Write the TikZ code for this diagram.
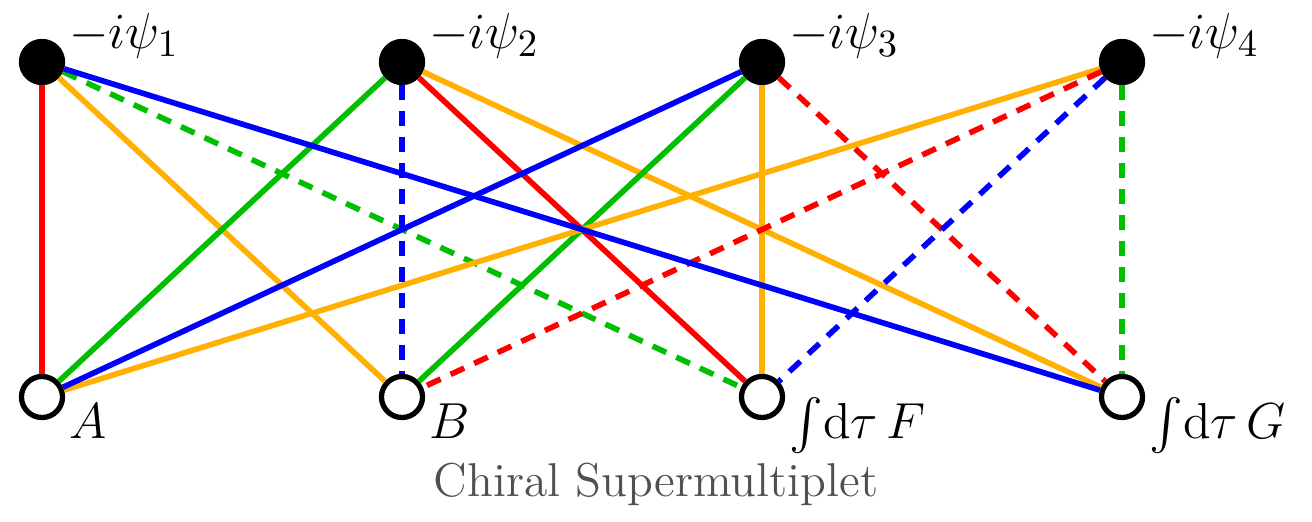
\documentclass[tikz,border=0pt]{standalone}
\usepackage{amsmath}
\usetikzlibrary{positioning,calc}
\definecolor{adkred}{RGB}{255,0,0}
\definecolor{adkorange}{RGB}{255,176,0}
\definecolor{adkgreen}{RGB}{0,190,0}
\definecolor{adkblue}{RGB}{0,0,255}
\definecolor{capgray}{RGB}{80,80,80}

\begin{document}
\begin{tikzpicture}[x=0.01cm, y=-0.01cm,
  fermion/.style={circle, draw=black, fill=black, line width=1.5pt,
    minimum size=0.41cm, inner sep=0pt},
  boson/.style={circle, draw=black, fill=white, line width=1.5pt,
    minimum size=0.41cm, inner sep=0pt},
  link/.style={line width=1.6pt},
  flip/.style={dash pattern=on 0.15cm off 0.11cm},
  fieldlabel/.style={font=\fontsize{15}{18}\selectfont, inner sep=1pt, anchor=base west},
  caption/.style={font=\fontsize{13.5}{16}\selectfont, text=capgray, anchor=base}
]
\useasboundingbox (0,0) rectangle (1312,521);

% fermions on top
\node[fermion] (psi1) at (42,62) {};
\node[fermion] (psi2) at (402,62) {};
\node[fermion] (psi3) at (762,62) {};
\node[fermion] (psi4) at (1122,62) {};

% bosons below
\node[boson] (A) at (42,397) {};
\node[boson] (B) at (402,397) {};
\node[boson] (F) at (762,397) {};
\node[boson] (G) at (1122,397) {};

% edges
\draw[link,adkred] (psi1) -- (A);
\draw[link,adkorange] (psi1) -- (B);
\draw[link,adkgreen,flip] (psi1) -- (F);
\draw[link,adkgreen] (psi2) -- (A);
\draw[link,adkblue,flip] (psi2) -- (B);
\draw[link,adkred] (psi2) -- (F);
\draw[link,adkorange] (psi2) -- (G);
\draw[link,adkorange] (psi3) -- (F);
\draw[link,adkred,flip] (psi3) -- (G);
\draw[link,adkgreen] (psi3) -- (B);
\draw[link,adkorange] (psi4) -- (A);
\draw[link,adkred,flip] (psi4) -- (B);
\draw[link,adkblue,flip] (psi4) -- (F);
\draw[link,adkgreen,flip] (psi4) -- (G);
\draw[link,adkblue] (psi3) -- (A);
\draw[link,adkblue] (psi1) -- (G);

% labels
\node[fieldlabel] at ([yshift=0.13cm]psi1.east) {$-i\psi_1$};
\node[fieldlabel] at ([yshift=0.13cm]psi2.east) {$-i\psi_2$};
\node[fieldlabel] at ([yshift=0.13cm]psi3.east) {$-i\psi_3$};
\node[fieldlabel] at ([yshift=0.13cm]psi4.east) {$-i\psi_4$};
\node[fieldlabel] at ([yshift=-0.41cm]A.east) {$A$};
\node[fieldlabel] at ([yshift=-0.41cm]B.east) {$B$};
\node[fieldlabel] at ([yshift=-0.41cm]F.east) {$\int\!\mathrm{d}\tau\, F$};
\node[fieldlabel] at ([yshift=-0.41cm]G.east) {$\int\!\mathrm{d}\tau\, G$};

\node[caption] (title) at (656,496) {Chiral Supermultiplet};
\end{tikzpicture}
\end{document}
